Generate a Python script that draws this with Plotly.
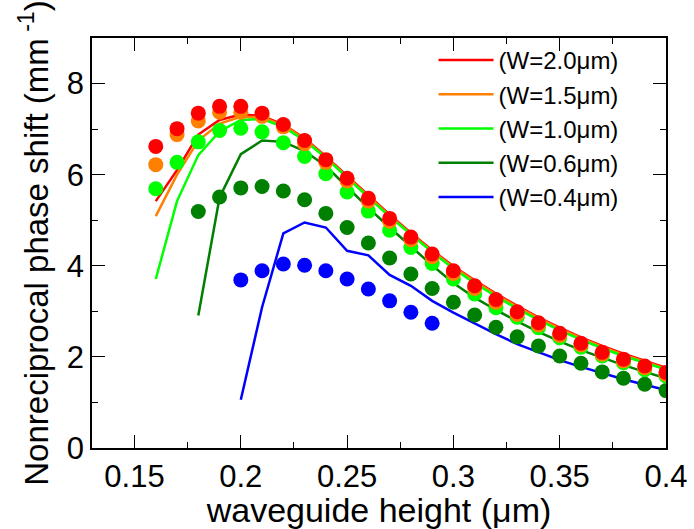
import plotly.graph_objects as go

# x positions (waveguide height, um)
h_all = [0.16, 0.17, 0.18, 0.19, 0.20, 0.21, 0.22, 0.23, 0.24, 0.25, 0.26, 0.27, 0.28,
         0.29, 0.30, 0.31, 0.32, 0.33, 0.34, 0.35, 0.36, 0.37, 0.38, 0.39, 0.40]
h_from018 = h_all[2:]
h_from020 = h_all[4:]
h_blue_pts = [0.20, 0.21, 0.22, 0.23, 0.24, 0.25, 0.26, 0.27, 0.28, 0.29]

# simulated curves (lines)
line_w20 = [5.42, 6.10, 6.88, 7.20, 7.32, 7.29, 7.10, 6.80, 6.40, 5.97, 5.55, 5.12, 4.72,
            4.34, 3.99, 3.68, 3.39, 3.12, 2.87, 2.64, 2.43, 2.24, 2.07, 1.91, 1.76]
line_w15 = [5.09, 6.00, 6.75, 7.12, 7.27, 7.26, 7.08, 6.78, 6.38, 5.95, 5.53, 5.10, 4.70,
            4.32, 3.97, 3.66, 3.37, 3.10, 2.85, 2.62, 2.41, 2.22, 2.05, 1.89, 1.74]
line_w10 = [3.71, 5.42, 6.43, 6.95, 7.20, 7.22, 7.05, 6.75, 6.37, 5.93, 5.50, 5.08, 4.68,
            4.30, 3.94, 3.62, 3.33, 3.06, 2.81, 2.58, 2.38, 2.19, 2.02, 1.87, 1.72]
line_w06 = [2.91, 5.50, 6.45, 6.75, 6.72, 6.52, 6.19, 5.72, 5.27, 4.84, 4.42, 4.01,
            3.62, 3.30, 3.03, 2.78, 2.55, 2.34, 2.15, 1.98, 1.82, 1.67, 1.53]
line_w04 = [1.06, 3.09, 4.71, 4.95, 4.84, 4.33, 4.23, 3.80, 3.56, 3.23, 2.97, 2.73, 2.50,
            2.28, 2.10, 1.93, 1.78, 1.64, 1.51, 1.39, 1.27]

# measured points (markers)
pts_w20 = [6.62, 7.01, 7.35, 7.50, 7.50, 7.35, 7.10, 6.75, 6.33, 5.92, 5.48, 5.04, 4.63,
           4.26, 3.89, 3.56, 3.26, 2.99, 2.75, 2.52, 2.30, 2.10, 1.95, 1.80, 1.66]
pts_w15 = [6.22, 6.88, 7.18, 7.37, 7.37, 7.28, 7.05, 6.68, 6.27, 5.86, 5.42, 4.98, 4.57,
           4.20, 3.83, 3.50, 3.20, 2.93, 2.70, 2.47, 2.26, 2.06, 1.91, 1.76, 1.62]
pts_w10 = [5.69, 6.27, 6.72, 6.97, 7.02, 6.94, 6.70, 6.40, 6.02, 5.62, 5.20, 4.78, 4.40,
           4.05, 3.71, 3.38, 3.08, 2.87, 2.64, 2.42, 2.21, 2.02, 1.87, 1.72, 1.58]
pts_w06 = [5.19, 5.51, 5.71, 5.74, 5.64, 5.45, 5.15, 4.84, 4.50, 4.17, 3.82, 3.50, 3.20,
           2.92, 2.65, 2.44, 2.24, 2.02, 1.86, 1.67, 1.53, 1.40, 1.26]
pts_w04 = [3.69, 3.89, 4.04, 4.01, 3.89, 3.71, 3.49, 3.23, 2.98, 2.74]

labels = ["(W=2.0\u03bcm)", "(W=1.5\u03bcm)", "(W=1.0\u03bcm)", "(W=0.6\u03bcm)", "(W=0.4\u03bcm)"]
colors = ["#FF0000", "#FF8000", "#00FF00", "#008000", "#0000FF"]

line_x = [h_all, h_all, h_all, h_from018, h_from020]
line_y = [line_w20, line_w15, line_w10, line_w06, line_w04]
pt_x = [h_all, h_all, h_all, h_from018, h_blue_pts]
pt_y = [pts_w20, pts_w15, pts_w10, pts_w06, pts_w04]

fig = go.Figure()

# lines (legend entries)
for i in range(5):
    fig.add_trace(go.Scatter(x=line_x[i], y=line_y[i], mode="lines", name=labels[i],
                             line=dict(color=colors[i], width=2.5), showlegend=True))

# markers, red drawn last (on top)
for i in reversed(range(5)):
    fig.add_trace(go.Scatter(x=pt_x[i], y=pt_y[i], mode="markers",
                             marker=dict(color=colors[i], size=15, line=dict(width=0)),
                             showlegend=False))

font_family = "Liberation Sans, Arial, Helvetica, sans-serif"

fig.update_layout(
    width=694, height=529,
    margin=dict(l=92, r=28, t=38, b=81),
    paper_bgcolor="white", plot_bgcolor="white",
    font=dict(family=font_family, color="black"),
    showlegend=True,
    legend=dict(x=0.595, y=1.0, xanchor="left", yanchor="top",
                font=dict(size=24, family=font_family),
                bgcolor="rgba(0,0,0,0)", itemwidth=55, tracegroupgap=0),
    xaxis=dict(range=[0.13, 0.4], tickvals=[0.15, 0.2, 0.25, 0.3, 0.35, 0.4],
               ticktext=["0.15", "0.2", "0.25", "0.3", "0.35", "0.4"],
               ticks="inside", ticklen=13, tickwidth=1.2, tickcolor="black",
               minor=dict(ticks="inside", ticklen=6, tickwidth=1.2, tickcolor="black",
                          tickvals=[0.175, 0.225, 0.275, 0.325, 0.375]),
               showline=True, linecolor="black", linewidth=1.5, mirror="ticks",
               showgrid=False, zeroline=False,
               tickfont=dict(size=31), automargin=False,
               title=dict(text="waveguide height (\u03bcm)", font=dict(size=34), standoff=6)),
    yaxis=dict(range=[0, 9], tickvals=[0, 2, 4, 6, 8],
               ticks="inside", ticklen=13, tickwidth=1.2, tickcolor="black",
               minor=dict(ticks="inside", ticklen=6, tickwidth=1.2, tickcolor="black",
                          tickvals=[1, 3, 5, 7]),
               showline=True, linecolor="black", linewidth=1.5, mirror="ticks",
               showgrid=False, zeroline=False,
               tickfont=dict(size=31), automargin=False,
               title=dict(text="Nonreciprocal phase shift (mm<sup> -1</sup>)",
                          font=dict(size=33), standoff=8)),
)

fig.write_html("out.html", config={"displayModeBar": False},
               post_script="document.body.style.margin='0px';")
